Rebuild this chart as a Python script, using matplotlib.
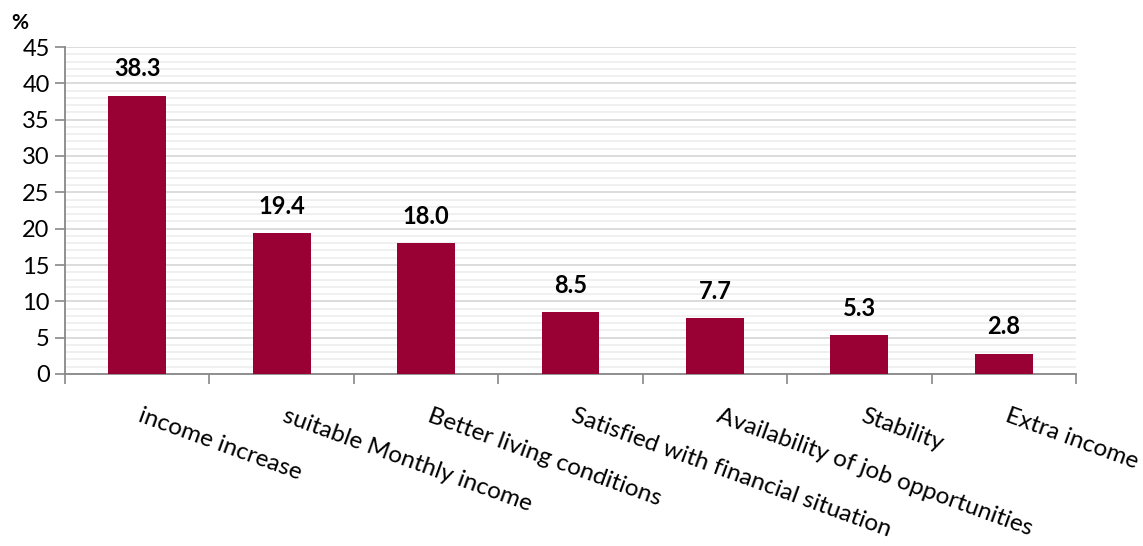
import numpy as np
import matplotlib.pyplot as plt
from matplotlib.ticker import MultipleLocator

# Reasons given, share of respondents (%)
categories = ['income increase', 'suitable Monthly income', 'Better living conditions',
              'Satisfied with financial situation', 'Availability of job opportunities',
              'Stability', 'Extra income']
values = [38.3, 19.4, 18.0, 8.5, 7.7, 5.3, 2.8]

plt.rcParams['font.family'] = ['Lato', 'DejaVu Sans']

fig = plt.figure(figsize=(11.43, 5.46), dpi=100)
ax = fig.add_axes([65 / 1143, 1 - 374 / 546, (1076 - 65) / 1143, (374 - 47) / 546])

x = np.arange(len(categories))
ax.bar(x, values, width=0.4, color='#990033', zorder=3)

for xi, v in zip(x, values):
    ax.annotate('%.1f' % v, (xi, v), xytext=(0, 11), textcoords='offset points',
                ha='center', va='bottom', fontsize=17, fontweight='bold')

ax.set_xlim(-0.5, len(categories) - 0.5)
ax.set_ylim(0, 45)
ax.yaxis.set_major_locator(MultipleLocator(5))
ax.yaxis.set_minor_locator(MultipleLocator(1))
ax.grid(axis='y', which='major', color='#d9d9d9', linewidth=1.3, zorder=0)
ax.grid(axis='y', which='minor', color='#efefef', linewidth=1.3, zorder=0)
ax.set_axisbelow(True)

# category ticks sit on the boundaries, labels hang from the bar centres
ax.set_xticks(np.arange(len(categories) + 1) - 0.5)
ax.set_xticklabels([])
ax.tick_params(axis='x', which='both', length=7, width=1.2, color='#888888', direction='out')
ax.tick_params(axis='y', which='major', length=7, width=1.2, color='#888888',
               labelsize=17, pad=4)
ax.tick_params(axis='y', which='minor', length=0)

for xi, name in zip(x, categories):
    ax.text(xi + 0.04, -4.3, name, rotation=-20, rotation_mode='anchor',
            ha='left', va='top', fontsize=17.5)

for side in ['top', 'right']:
    ax.spines[side].set_visible(False)
for side in ['left', 'bottom']:
    ax.spines[side].set_color('#888888')
    ax.spines[side].set_linewidth(1.3)

fig.text(11 / 1143, 1 - 23 / 546, '%', fontsize=15, fontweight='bold', va='center')

fig.savefig('out.png', dpi=100)
